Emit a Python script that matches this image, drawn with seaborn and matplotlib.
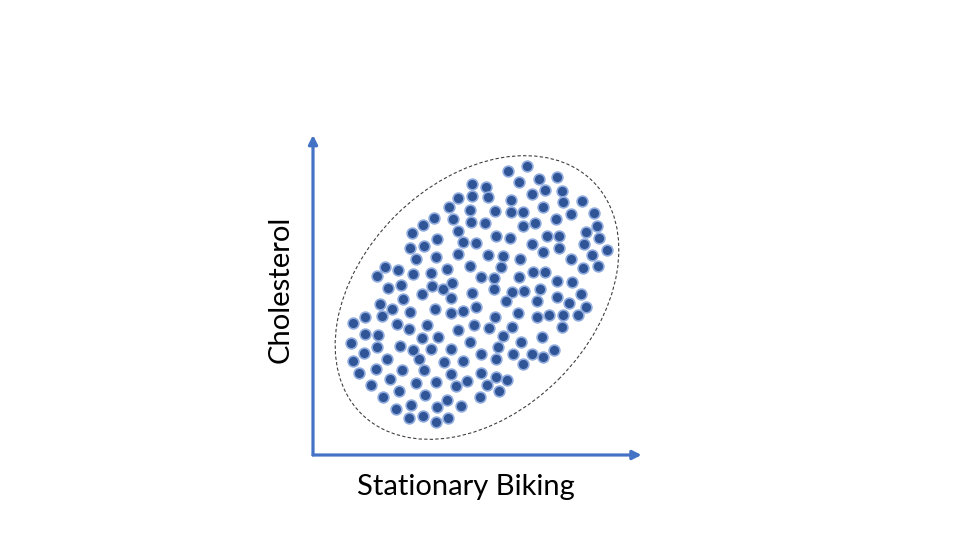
import pandas as pd
import matplotlib.pyplot as plt
import seaborn as sns
from matplotlib.patches import Ellipse

# points (arbitrary units, origin at the axes corner)
biking = [
    159, 159, 145, 136, 157, 140, 158, 121, 110, 99, 145, 124, 150, 163, 97, 111,
    145, 103, 123, 157, 72, 64, 85, 100, 118, 134, 168, 75, 88, 119, 130, 139,
    159, 109, 90, 138,
    67, 79, 97, 122, 138, 150, 163, 69, 52, 40, 84, 96, 114, 145, 161, 52, 65,
    109, 125, 157, 38, 64, 87, 100, 118, 138, 51, 74, 106, 40, 131, 150, 168, 46,
    63, 89, 111, 138, 168, 77, 58, 103, 123, 154, 143, 86, 70, 112, 167, 134, 83,
    98, 124, 148, 96, 110, 123, 135,
    214, 195, 173, 206, 226, 244, 175, 198, 219, 232, 249, 250, 269, 230, 182,
    198, 210, 281, 258, 243, 172, 210, 222, 284, 273, 183, 197, 234, 246, 286,
    271, 219, 246, 294, 230, 175, 190, 279, 207, 258, 188, 270, 285, 220, 232,
    181, 206, 244, 259, 181, 199, 211, 227, 244, 268,
    193, 224, 256, 273, 182, 205, 224, 236, 250, 265, 176, 199, 249, 190, 229,
    208, 185, 241, 200, 219, 230, 183, 210, 183, 194, 174, 186,
]
cholesterol = [
    271, 259, 257, 248, 245, 236, 233, 237, 230, 222, 224, 216, 213, 212, 207, 209,
    201, 196, 198, 189, 188, 179, 185, 181, 182, 186, 178, 167, 170, 169, 166, 172,
    162, 161, 156, 157,
    151, 146, 143, 146, 142, 144, 148, 139, 138, 132, 131, 126, 130, 125, 130, 121,
    120, 117, 118, 113, 112, 108, 109, 105, 106, 106, 102, 96, 96, 94, 93, 94, 101,
    82, 86, 85, 85, 81, 82, 76, 70, 72, 73, 74, 69, 64, 58, 60, 58, 55, 46, 50, 48,
    49, 37, 39, 33, 37,
    289, 284, 268, 273, 276, 278, 258, 255, 261, 265, 264, 253, 254, 248, 244,
    243, 243, 242, 241, 236, 232, 229, 232, 229, 223, 219, 217, 219, 219, 217,
    211, 211, 207, 205, 203, 200, 199, 200, 196, 196, 188, 187, 189, 183, 183,
    177, 178, 174, 173, 166, 163, 164, 166, 158, 161,
    154, 154, 152, 148, 138, 142, 138, 140, 140, 140, 127, 128, 128, 119, 118,
    113, 108, 105, 101, 101, 98, 96, 91, 78, 75, 70, 64,
]

df = pd.DataFrame({"Stationary Biking": biking, "Cholesterol": cholesterol})

sns.set_style("white")
plt.rcParams["font.family"] = ["Lato", "DejaVu Sans"]

blue = "#4472C4"

fig = plt.figure(figsize=(9.6, 5.4), dpi=100)
ax = fig.add_axes([313 / 960, 85 / 540, 327 / 960, 320 / 540])

sns.scatterplot(
    data=df,
    x="Stationary Biking",
    y="Cholesterol",
    s=60,
    color="#2F5597",
    edgecolor="#8FAADC",
    linewidth=1.2,
    ax=ax,
    zorder=3,
)

ax.add_patch(Ellipse((164, 157.5), 328, 231, angle=45, fill=False,
                     edgecolor="#404040", linewidth=0.8, linestyle=(0, (3, 2))))

ax.set_xlim(0, 327)
ax.set_ylim(0, 320)
ax.set_xticks([])
ax.set_yticks([])
ax.set_xlabel("")
ax.set_ylabel("")
sns.despine(ax=ax, left=True, bottom=True)

# arrow axes
arrow = dict(arrowstyle="-|>", color=blue, lw=2.3, mutation_scale=13,
             shrinkA=0, shrinkB=0)
ax.annotate("", xy=(1.005, 0), xytext=(0, 0), xycoords="axes fraction",
            arrowprops=arrow, annotation_clip=False)
ax.annotate("", xy=(0, 1.0), xytext=(0, 0), xycoords="axes fraction",
            arrowprops=arrow, annotation_clip=False)

fig.text(466 / 960, 1 - 487 / 540, "Stationary Biking", fontsize=21,
         ha="center", va="center", color="black")
fig.text(281 / 960, 1 - 289 / 540, "Cholesterol", fontsize=21, rotation=90,
         ha="center", va="center", color="black")

plt.savefig("out.png", dpi=100)
